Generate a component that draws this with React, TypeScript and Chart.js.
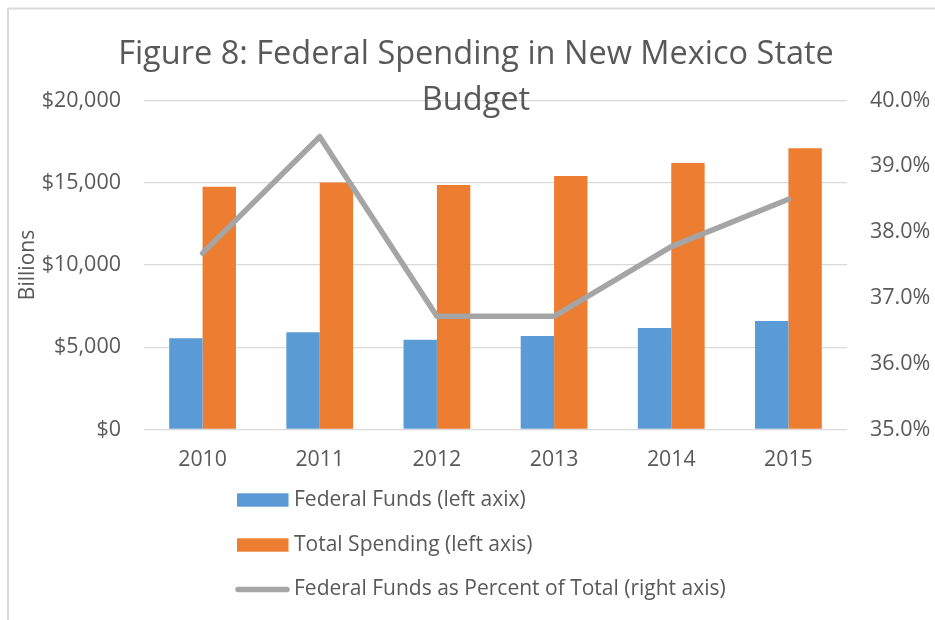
import React, { useEffect, useRef } from 'react';
import { Chart, registerables } from 'chart.js';

Chart.register(...registerables);

const years = ['2010', '2011', '2012', '2013', '2014', '2015'];
const federalFunds = [5550, 5910, 5460, 5690, 6170, 6600];
const totalSpending = [14750, 15020, 14870, 15410, 16200, 17100];
const federalPercent = [37.68, 39.45, 36.72, 36.72, 37.78, 38.5];
const titleLines = ['Figure 8: Federal Spending in New Mexico State', 'Budget'];
const seriesLabels = [
  'Federal Funds (left axix)',
  'Total Spending (left axis)',
  'Federal Funds as Percent of Total (right axis)',
];

const FONT = '"Open Sans", "DejaVu Sans", sans-serif';
const TEXT = '#595959';
const GRID = '#D9D9D9';

const decorPlugin = {
  id: 'decor',
  beforeDraw(chart: any) {
    const ctx = chart.ctx;
    ctx.save();
    ctx.fillStyle = '#ffffff';
    ctx.fillRect(0, 0, chart.width, chart.height);
    ctx.strokeStyle = GRID;
    ctx.lineWidth = 2;
    ctx.beginPath();
    ctx.moveTo(8, 8.5);
    ctx.lineTo(chart.width, 8.5);
    ctx.moveTo(8, 8);
    ctx.lineTo(8, chart.height);
    ctx.stroke();
    ctx.restore();
  },
  afterDraw(chart: any) {
    const ctx = chart.ctx;
    ctx.save();
    // Title
    ctx.fillStyle = TEXT;
    ctx.textAlign = 'center';
    ctx.textBaseline = 'alphabetic';
    ctx.font = `32px ${FONT}`;
    const w = ctx.measureText(titleLines[0]).width;
    const size = (32 * 716) / w;
    ctx.font = `${size}px ${FONT}`;
    ctx.fillText(titleLines[0], 476, 63.5);
    ctx.fillText(titleLines[1], 476, 110);

    // Legend
    const ds = chart.data.datasets;
    const ys = [500, 545, 589.5];
    ctx.textAlign = 'left';
    ctx.textBaseline = 'middle';
    ctx.font = `21px ${FONT}`;
    ds.forEach((d: any, i: number) => {
      const y = ys[i];
      if (d.type === 'line') {
        ctx.strokeStyle = d.borderColor;
        ctx.lineWidth = 5.5;
        ctx.lineCap = 'round';
        ctx.beginPath();
        ctx.moveTo(238, y);
        ctx.lineTo(287, y);
        ctx.stroke();
      } else {
        ctx.fillStyle = d.backgroundColor;
        ctx.fillRect(237, y - 6.7, 51.5, 13.4);
      }
      ctx.fillStyle = TEXT;
      ctx.fillText(d.label, 294, y);
    });
    ctx.restore();
  },
};

export default function App() {
  const ref = useRef<HTMLCanvasElement | null>(null);
  useEffect(() => {
    if (!ref.current) return;
    const chart = new Chart(ref.current, {
      type: 'bar',
      data: {
        labels: years,
        datasets: [
          {
            type: 'bar',
            label: seriesLabels[0],
            data: federalFunds,
            backgroundColor: '#5B9BD5',
            yAxisID: 'y',
            order: 1,
            categoryPercentage: 0.57,
            barPercentage: 1,
          },
          {
            type: 'bar',
            label: seriesLabels[1],
            data: totalSpending,
            backgroundColor: '#ED7D31',
            yAxisID: 'y',
            order: 1,
            categoryPercentage: 0.57,
            barPercentage: 1,
          },
          {
            type: 'line',
            label: seriesLabels[2],
            data: federalPercent,
            borderColor: '#A5A5A5',
            backgroundColor: '#A5A5A5',
            borderWidth: 5.5,
            pointRadius: 0,
            tension: 0,
            borderCapStyle: 'round',
            borderJoinStyle: 'round',
            yAxisID: 'y1',
            order: 0,
          } as any,
        ],
      },
      options: {
        animation: false,
        responsive: false,
        layout: { padding: { top: 100.5, left: 0, right: 0, bottom: 0 } },
        plugins: {
          legend: { display: false },
          title: { display: false },
          tooltip: { enabled: false },
        },
        scales: {
          x: {
            grid: { display: false, drawTicks: false },
            border: { display: false },
            ticks: { color: TEXT, font: { family: FONT, size: 21.3 }, padding: 18 },
            afterFit: (s: any) => {
              s.height = 190.5;
            },
          },
          y: {
            position: 'left',
            min: 0,
            max: 20000,
            ticks: {
              stepSize: 5000,
              color: TEXT,
              font: { family: FONT, size: 21.5 },
              padding: 23,
              callback: (v: any) => '$' + Number(v).toLocaleString('en-US'),
            },
            grid: { color: GRID, lineWidth: 1.3, drawTicks: false },
            border: { display: false },
            title: {
              display: true,
              text: 'Billions',
              color: TEXT,
              font: { family: FONT, size: 21 },
              padding: { top: 15.4, bottom: 0 },
            },
            afterFit: (s: any) => {
              s.width = 144;
            },
          },
          y1: {
            position: 'right',
            min: 35,
            max: 40,
            ticks: {
              stepSize: 1,
              color: TEXT,
              font: { family: FONT, size: 21.5 },
              padding: 23,
              callback: (v: any) => Number(v).toFixed(1) + '%',
            },
            grid: { display: false, drawTicks: false },
            border: { display: false },
            afterFit: (s: any) => {
              s.width = 88;
            },
          },
        },
      },
      plugins: [decorPlugin],
    } as any);
    return () => chart.destroy();
  }, []);
  return (
    <div style={{ position: 'absolute', left: 0, top: 0, width: 935, height: 620 }}>
      <canvas ref={ref} width={935} height={620} style={{ display: 'block' }} />
    </div>
  );
}
